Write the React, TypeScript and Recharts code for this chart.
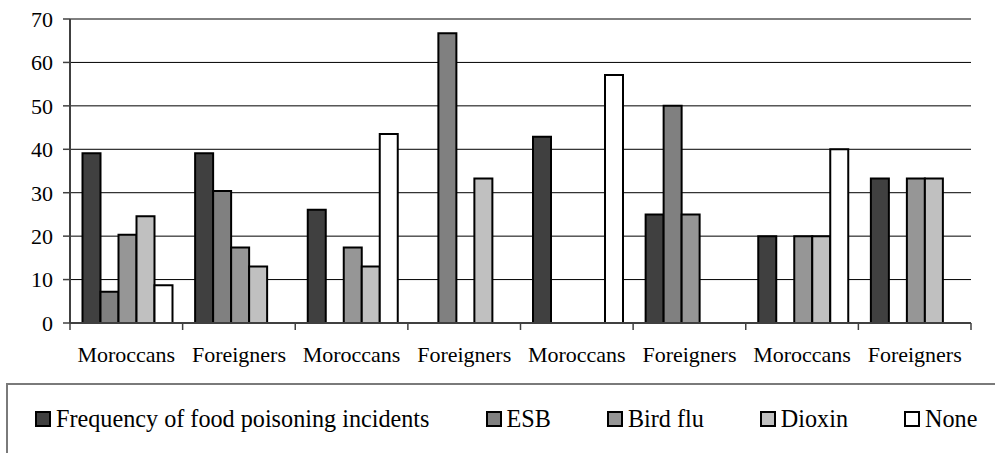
import { BarChart, Bar, XAxis, YAxis, CartesianGrid } from "recharts";

const categories = [
  "Moroccans",
  "Foreigners",
  "Moroccans",
  "Foreigners",
  "Moroccans",
  "Foreigners",
  "Moroccans",
  "Foreigners",
];

const freq = [39.1, 39.1, 26.1, 0, 42.9, 25, 20, 33.3];
const esb = [7.2, 30.4, 0, 66.7, 0, 50, 0, 0];
const birdFlu = [20.3, 17.4, 17.4, 0, 0, 25, 20, 33.3];
const dioxin = [24.6, 13.0, 13.0, 33.3, 0, 0, 20, 33.3];
const none = [8.7, 0, 43.5, 0, 57.1, 0, 40, 0];

const yTicks = [0, 10, 20, 30, 40, 50, 60, 70];

const series = [
  { key: "freq", name: "Frequency of food poisoning incidents", color: "#404040" },
  { key: "esb", name: "ESB", color: "#808080" },
  { key: "birdFlu", name: "Bird flu", color: "#969696" },
  { key: "dioxin", name: "Dioxin", color: "#c0c0c0" },
  { key: "none", name: "None", color: "#ffffff" },
];

const data = categories.map((name, i) => ({
  name,
  freq: freq[i],
  esb: esb[i],
  birdFlu: birdFlu[i],
  dioxin: dioxin[i],
  none: none[i],
}));

const W = 995;
const H = 453;
const MARGIN = { top: 19, right: 24, left: 0, bottom: 0 };
const Y_AXIS_W = 70;
const X_AXIS_H = 130;
const FONT = '"Liberation Serif"';
const AXIS_COLOR = "#404040";

const bandWidth = (W - MARGIN.left - MARGIN.right - Y_AXIS_W) / categories.length;

// category label centred in the band, tick marks on the band boundaries
function CategoryTick(props: any) {
  const { x, y, payload, index } = props;
  const half = payload?.offset || bandWidth / 2;
  const last = index === categories.length - 1;
  return (
    <g>
      <line x1={x - half} y1={y} x2={x - half} y2={y + 7} stroke={AXIS_COLOR} strokeWidth={1.5} />
      {last && (
        <line x1={x + half} y1={y} x2={x + half} y2={y + 7} stroke={AXIS_COLOR} strokeWidth={1.5} />
      )}
      <text x={x} y={y + 39} textAnchor="middle" style={{ fontFamily: FONT }} fontSize={22} fill="#000">
        {payload.value}
      </text>
    </g>
  );
}

function LegendBox() {
  return (
    <div
      style={{
        position: "absolute",
        left: 6,
        top: 383,
        width: 1000,
        height: 80,
        border: "2px solid #7a7a7a",
        boxSizing: "border-box",
        paddingTop: 20,
        paddingLeft: 27,
        display: "flex",
        alignItems: "flex-start",
        gap: 56,
        fontFamily: FONT,
        fontSize: 24.2,
        lineHeight: "27px",
        color: "#000",
      }}
    >
      {series.map((s) => (
        <div key={s.key} style={{ display: "flex", alignItems: "center", whiteSpace: "nowrap", height: 27 }}>
          <span
            style={{
              width: 16,
              height: 16,
              boxSizing: "border-box",
              border: "2px solid #000",
              background: s.color,
              marginRight: 5,
              display: "inline-block",
            }}
          />
          {s.name}
        </div>
      ))}
    </div>
  );
}

export default function App() {
  return (
    <div
      style={{
        position: "absolute",
        left: 0,
        top: 0,
        width: W,
        height: H,
        overflow: "hidden",
        background: "#fff",
        fontFamily: FONT,
      }}
    >
      <BarChart
        width={W}
        height={H}
        data={data}
        margin={MARGIN}
        barCategoryGap={12.5}
        barGap={0}
        style={{ fontFamily: FONT }}
      >
        <CartesianGrid vertical={false} stroke="#000" strokeWidth={1} />
        <XAxis
          dataKey="name"
          interval={0}
          height={X_AXIS_H}
          tickLine={false}
          tickSize={0}
          tickMargin={0}
          tick={<CategoryTick />}
          axisLine={{ stroke: AXIS_COLOR, strokeWidth: 2 }}
        />
        <XAxis
          xAxisId="top"
          dataKey="name"
          orientation="top"
          height={0}
          tick={false}
          tickLine={false}
          axisLine={{ stroke: "#999", strokeWidth: 2 }}
        />
        <YAxis
          width={Y_AXIS_W}
          domain={[0, 70]}
          ticks={yTicks}
          interval={0}
          tickSize={7}
          tickMargin={10}
          tickLine={{ stroke: AXIS_COLOR, strokeWidth: 1.5 }}
          axisLine={{ stroke: AXIS_COLOR, strokeWidth: 2 }}
          tick={{ fontFamily: FONT, fontSize: 22, fill: "#000" }}
        />
        <YAxis
          yAxisId="right"
          orientation="right"
          width={0}
          domain={[0, 70]}
          tick={false}
          tickLine={false}
          axisLine={{ stroke: "#999", strokeWidth: 2 }}
        />
        {series.map((s) => (
          <Bar
            key={s.key}
            dataKey={s.key}
            name={s.name}
            fill={s.color}
            stroke="#000"
            strokeWidth={2}
            isAnimationActive={false}
          />
        ))}
      </BarChart>
      <LegendBox />
    </div>
  );
}
